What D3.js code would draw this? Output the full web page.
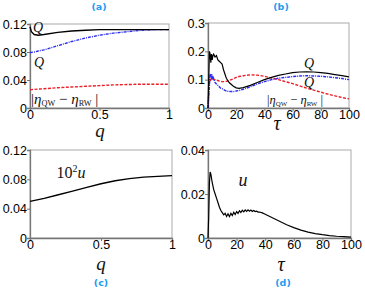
<!DOCTYPE html>
<html>
<head>
<meta charset="utf-8">
<script src="https://cdn.jsdelivr.net/npm/d3@7"></script>
<style>
  body { margin: 0; background: #fff; }
  svg { display: block; }
  .tick text { font-family: "Liberation Sans", Arial, sans-serif; font-size: 12.5px; fill: #000; }
  .lab { font-family: "Liberation Serif", "DejaVu Serif", serif; font-style: italic; fill: #111; }
  .plab { font-family: "DejaVu Sans", sans-serif; font-weight: bold; font-size: 9.5px; fill: #1e9bf0; }
</style>
</head>
<body>
<script>
// panel (a): versus q
const qA = [0, 0.01, 0.03, 0.06, 0.1, 0.2, 0.3, 0.4, 0.5, 0.6, 0.7, 0.8, 0.9, 1];
const aBlack = [0.116, 0.109, 0.105, 0.104, 0.105, 0.108, 0.110, 0.111, 0.112, 0.112, 0.112, 0.112, 0.112, 0.112];
const aBlue = [0.079, 0.0795, 0.080, 0.0815, 0.083, 0.089, 0.095, 0.100, 0.104, 0.107, 0.109, 0.111, 0.112, 0.112];
const aRed = [0.026, 0.0262, 0.0265, 0.027, 0.0275, 0.029, 0.030, 0.031, 0.032, 0.033, 0.0335, 0.034, 0.034, 0.034];

// panel (b): versus tau
const tB = [0, 0.5, 1, 1.5, 2, 2.5, 3, 3.5, 4, 5, 6, 7, 8, 9, 10, 11, 12, 13, 15, 18, 20, 22, 25, 30, 35, 40, 45, 50, 55, 60, 65, 70, 75, 80, 85, 90, 95, 100];
const bBlack = [0, 0.1, 0.2, 0.19, 0.16, 0.19, 0.17, 0.185, 0.19, 0.18, 0.185, 0.17, 0.165, 0.16, 0.155, 0.135, 0.12, 0.105, 0.09, 0.077, 0.071, 0.069, 0.072, 0.08, 0.09, 0.1, 0.108, 0.115, 0.12, 0.125, 0.127, 0.128, 0.127, 0.125, 0.122, 0.118, 0.114, 0.11];
const bBlue = [0, 0.04, 0.08, 0.12, 0.11, 0.12, 0.1, 0.11, 0.105, 0.09, 0.085, 0.08, 0.075, 0.07, 0.068, 0.065, 0.062, 0.06, 0.058, 0.058, 0.06, 0.062, 0.066, 0.075, 0.085, 0.093, 0.1, 0.105, 0.108, 0.111, 0.113, 0.114, 0.113, 0.112, 0.11, 0.107, 0.104, 0.1];
const bRed = [0, 0.05, 0.09, 0.1, 0.095, 0.105, 0.1, 0.104, 0.1, 0.1, 0.098, 0.097, 0.095, 0.094, 0.093, 0.093, 0.093, 0.094, 0.097, 0.103, 0.108, 0.111, 0.114, 0.117, 0.116, 0.112, 0.106, 0.1, 0.093, 0.086, 0.078, 0.07, 0.063, 0.056, 0.049, 0.043, 0.037, 0.032];

// panel (c): 10^2 u versus q
const qC = [0, 0.1, 0.2, 0.3, 0.4, 0.5, 0.6, 0.7, 0.8, 0.9, 1];
const cU = [0.050, 0.054, 0.059, 0.064, 0.069, 0.074, 0.078, 0.081, 0.083, 0.084, 0.085];

// panel (d): u versus tau
const tD = [0, 0.5, 1, 1.5, 2, 3, 4, 5, 6, 7, 8, 9, 10, 11, 12, 13, 14, 15, 16, 17, 18, 19, 20, 21, 22, 23, 24, 25, 26, 27, 28, 29, 30, 31, 32, 33, 34, 35, 36, 38, 40, 45, 50, 55, 60, 65, 70, 75, 80, 85, 90, 95, 100];
const dU = [0, 0.01, 0.025, 0.03, 0.029, 0.025, 0.022, 0.02, 0.018, 0.016, 0.014, 0.0125, 0.0115, 0.0105, 0.0112, 0.0098, 0.011, 0.0097, 0.0112, 0.0102, 0.0117, 0.0107, 0.012, 0.0112, 0.0124, 0.0116, 0.0126, 0.0119, 0.0128, 0.0121, 0.0128, 0.0122, 0.0127, 0.0121, 0.0125, 0.012, 0.0122, 0.0118, 0.0118, 0.0114, 0.0108, 0.0092, 0.0076, 0.006, 0.0047, 0.0036, 0.0027, 0.002, 0.0015, 0.0011, 0.0008, 0.0006, 0.0004];

const qTicks = [0, 0.5, 1];
const tTicks = [0, 20, 40, 60, 80, 100];

const svg = d3.select("body").append("svg")
    .attr("width", 365).attr("height", 290);

function panel(o) {
  const x = d3.scaleLinear().domain(o.xd).range([o.x0, o.x1]);
  const y = d3.scaleLinear().domain(o.yd).range([o.y1, o.y0]);
  const g = svg.append("g");

  // frame
  g.append("rect")
      .attr("x", o.x0).attr("y", o.y0)
      .attr("width", o.x1 - o.x0).attr("height", o.y1 - o.y0)
      .attr("fill", "none").attr("stroke", "#aaa").attr("stroke-width", 1);

  const ax = g.append("g")
      .attr("transform", `translate(0,${o.y1})`)
      .call(d3.axisBottom(x).tickValues(o.xt).tickSize(3).tickPadding(-1).tickFormat(d3.format("~g")));
  const ay = g.append("g")
      .attr("transform", `translate(${o.x0},0)`)
      .call(d3.axisLeft(y).tickValues(o.yt).tickSize(3).tickPadding(0).tickFormat(d3.format("~g")));
  [ax, ay].forEach(a => {
    a.select(".domain").attr("stroke", "#777").attr("stroke-width", 1.3);
    a.selectAll(".tick line").attr("stroke", "#777");
  });

  o.series.forEach(s => {
    const line = d3.line().x((d, i) => x(s.xs[i])).y(d => y(d));
    g.append("path")
        .attr("d", line(s.ys))
        .attr("fill", "none")
        .attr("stroke", s.color)
        .attr("stroke-width", s.w || 1.4)
        .attr("stroke-dasharray", s.dash || null);
  });
  return { x, y };
}

panel({
  x0: 30, x1: 169, y0: 24, y1: 108, xd: [0, 1], yd: [0, 0.12],
  xt: qTicks, yt: [0, 0.04, 0.08, 0.12],
  series: [
    { xs: qA, ys: aRed, color: "#ee1c24", dash: "3,1.5" },
    { xs: qA, ys: aBlue, color: "#2b2bf5", dash: "3,1,1,1" },
    { xs: qA, ys: aBlack, color: "#000" }
  ]
});
panel({
  x0: 208, x1: 349, y0: 23, y1: 108, xd: [0, 100], yd: [0, 0.3],
  xt: tTicks, yt: [0, 0.1, 0.2, 0.3],
  series: [
    { xs: tB, ys: bRed, color: "#ee1c24", dash: "3,1.5" },
    { xs: tB, ys: bBlue, color: "#2b2bf5", dash: "3,1,1,1" },
    { xs: tB, ys: bBlack, color: "#000", w: 1.2 }
  ]
});
panel({
  x0: 30, x1: 172, y0: 150, y1: 238, xd: [0, 1], yd: [0, 0.12],
  xt: qTicks, yt: [0, 0.04, 0.08, 0.12],
  series: [{ xs: qC, ys: cU, color: "#000" }]
});
panel({
  x0: 208, x1: 351, y0: 150, y1: 238, xd: [0, 100], yd: [0, 0.04],
  xt: tTicks, yt: [0, 0.02, 0.04],
  series: [{ xs: tD, ys: dU, color: "#000", w: 1.2 }]
});

function txt(x, y, s, size, cls, anchor) {
  return svg.append("text").attr("x", x).attr("y", y)
      .attr("class", cls).attr("font-size", size)
      .attr("text-anchor", anchor || "middle").text(s);
}

// axis labels
txt(100, 137, "q", 19, "lab");
txt(277, 130, "τ", 20, "lab");
txt(101, 270, "q", 19, "lab");
txt(281, 271, "τ", 20, "lab");

// panel labels
txt(99, 10, "(a)", 9.5, "plab");
txt(281, 10, "(b)", 9.5, "plab");
txt(101, 286, "(c)", 9.5, "plab");
txt(283, 286, "(d)", 9.5, "plab");

// curve labels
txt(38, 32, "Q", 14, "lab");
txt(39, 67, "Q", 14, "lab");
txt(309, 68, "Q", 14, "lab");
txt(309, 87, "Q", 14, "lab");
txt(71, 178, "", 16, "lab").call(t => {
  t.append("tspan").attr("font-style", "normal").text("10");
  t.append("tspan").attr("font-style", "normal").attr("dy", -6).attr("font-size", 10).text("2");
  t.append("tspan").attr("dy", 6).text("u");
});
txt(243, 186, "u", 18, "lab");

function eta(x, y, fs) {
  const t = svg.append("text").attr("x", x).attr("y", y).attr("class", "lab")
      .attr("font-size", fs).attr("text-anchor", "start");
  const sub = fs * 0.55;
  t.append("tspan").attr("font-style", "normal").text("|");
  t.append("tspan").text("η");
  t.append("tspan").attr("font-style", "normal").attr("font-size", sub).attr("dy", 2).text("QW");
  t.append("tspan").attr("font-style", "normal").attr("dy", -2).text(" − ");
  t.append("tspan").text("η");
  t.append("tspan").attr("font-style", "normal").attr("font-size", sub).attr("dy", 2).text("RW");
  t.append("tspan").attr("font-style", "normal").attr("dy", -2).text(" |");
}
eta(31, 104, 15);
eta(267, 104, 12.5);
</script>
</body>
</html>
